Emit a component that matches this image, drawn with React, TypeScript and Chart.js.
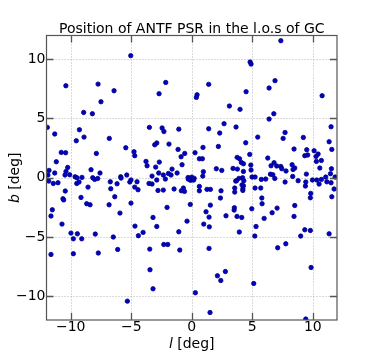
import React, { useEffect, useRef } from "react";
import { Chart, registerables } from "chart.js";

Chart.register(...registerables);

// Galactic longitude l [deg] of each pulsar
const lValues: number[] = [
  -5.04, -10.4, -7.74, -6.42, -7.5, -8.93, -8.21, -11.93, -9.28,
  -2.15, -2.7, 1.4, 0.44, 0.38, 3.11, -3.5, -2.45, -2.3, -1.07, 1.4, 2.67, 3.66,
  7.36, 4.82, 4.9, 6.88, 6.39, 4.49, 10.77, 3.99, 6.78, 6.39, 11.51,
  -11.32, -8.9, -9.54, -6.81, -10.78, -10.42, -7.88, -5.45, -4.77, -4.71,
  -11.19, -10.25, -10.39, -11.32, -10.47, -10.08, -8.32, -7.58, -11.79, -11.88,
  -9.64, -9.48, -9.07, -8.18, -8.02, -7.77, -5.87, -5.84, -5.37, -5.12, -5.02, -4.52,
  -11.82, -11.44, -11.05, -9.5, -9.31, -6.73, -6.17, -8.57, -6.69, -4.71, -4.44,
  -10.45, -9.15, -10.64, -10.58, -6.36, -8.68, -8.4, -6.83, -5.02, -11.52, -11.63,
  -5.93, -10.72, -4.69,
  2.31, -2.89, -3.06, -1.88, 2.2, 0.93, -1.13, -0.58, 0.27, -0.88, 0.63, 0.88,
  -3.78, -3.69, -2.68, -0.8, -2.98, -1.63, 2.03, 2.48, 3.41, 3.77, 0.96,
  -2.73, -2.35, -1.93, -1.71, -1.21, -3.28, 0.91, -2.18, -2.89,
  -0.3, 0.0, 0.2, -0.1, 0.15, -0.28,
  -3.53, -3.28, 3.63, 0.63, -1.46, 1.26, 1.54, -0.69, -0.86, -0.6, -2.79, -2.35,
  0.63, 2.42, 3.55, 3.55, 2.37, -0.12, 1.54, -2.04, 3.52, 3.5, 1.18, 2.83, 1.43,
  -3.2, 3.74, -0.39, -2.89, 0.99, 1.45,
  7.71, 7.55, 9.22, 5.45, 4.46, 11.35, 8.45, 9.5, 10.11, 11.57, 4.79, 9.58, 9.34,
  10.44, 10.27, 3.75, 3.95, 6.28, 10.3, 10.71, 4.1, 4.27, 6.8, 4.88, 6.55, 7.02,
  7.36, 8.29, 7.44, 8.51, 8.37, 7.79, 10.58, 11.54, 4.9, 4.27, 6.5, 6.7, 9.47,
  11.46, 8.34, 11.84, 4.98, 5.23, 3.9, 4.2, 4.3, 3.7, 4.15, 5.75, 6.11, 6.86,
  9.97, 10.33, 10.71, 11.07, 8.79, 7.71, 9.42, 11.16, 11.51, 10.52, 9.39, 4.27,
  4.22, 4.22, 5.23, 5.7, 11.76, 9.83, 9.8, 11.57, 5.79, 5.81, 8.51, 7.05, 4.96,
  6.64, 8.45, 4.13, 5.98, 5.31,
  -9.98, -9.45, -9.78, -9.09, -7.97, -6.48, -4.41, -11.63, -9.78, -7.72, -6.12, -5.32,
  -4.02, -1.07, -2.31, -1.98, -3.47, -0.99, 1.43, -3.45, 2.78, 2.12, 2.4, -3.2, 0.3, 1.51,
  3.93, 5.21, 9.34, 9.8, 9.0, 11.35, 7.1, 7.77, 9.86, 5.12, 9.42,
];

// Galactic latitude b [deg] of each pulsar (same order)
const bValues: number[] = [
  10.3, 7.76, 7.9, 7.34, 6.41, 5.51, 5.4, 4.25, 4.05,
  8.04, 7.09, 7.88, 7.0, 6.78, 6.05, 4.25, 4.2, 3.9, 4.1, 4.13, 4.56, 4.28,
  11.56, 9.76, 9.59, 8.19, 7.57, 7.26, 6.92, 5.77, 5.4, 4.95, 4.3,
  3.69, 3.43, 3.12, 3.32, 2.14, 2.11, 2.05, 2.53, 2.19, 1.86,
  1.35, 0.87, 0.53, 0.4, 0.23, 0.25, 0.68, 0.4, 0.62, 0.23,
  0.08, 0.0, 0.03, 0.0, -0.14, -0.06, 0.08, -0.03, 0.23, -0.36, -0.19, -0.34,
  -0.28, -0.48, -0.42, -0.48, -0.36, -0.34, -0.51, -0.79, -0.93, -0.79, -1.01,
  -1.12, -1.66, -1.77, -1.87, -1.6, -2.19, -2.28, -2.28, -2.14, -2.7, -3.23,
  -2.98, -3.91, -4.08,
  3.77, 2.93, 2.78, 2.84, 2.64, 2.56, 2.39, 2.05, 2.11, 1.77, 1.6, 1.6,
  1.38, 1.01, 1.32, 1.1, 0.9, 0.73, 0.76, 0.62, 0.79, 0.73, 0.51,
  0.4, 0.23, 0.36, 0.23, 0.4, 0.14, 0.14, -0.11, -0.19,
  0.02, 0.05, -0.05, -0.22, -0.2, -0.12,
  -0.48, -0.53, -0.28, -0.73, -0.95, -0.98, -0.98, -0.87, -1.1, -1.15, -1.07, -1.04,
  -1.1, -1.1, -0.87, -1.21, -1.71, -2.25, -2.31, -2.5, -2.53, -2.73, -2.87, -3.21, -3.32,
  -3.35, -3.26, -3.66, -4.11, -3.91, -4.14,
  3.82, 3.32, 3.4, 3.43, 2.95, 3.04, 2.42, 2.36, 2.28, 2.39, 1.97, 1.92, 1.86,
  2.0, 1.8, 1.72, 1.6, 1.66, 1.38, 1.46, 1.29, 1.18, 1.27, 1.07, 1.01, 0.99,
  0.95, 1.1, 0.76, 0.82, 0.7, 0.57, 0.82, 0.76, 0.65, 0.53, 0.3, 0.25, 0.31,
  0.34, 0.11, 0.06, 0.06, 0.06, -0.05, 0.0, -0.25, -0.25, -0.6, -0.14, -0.11, -0.06,
  -0.19, -0.19, -0.14, 0.06, -0.25, -0.36, -0.36, -0.34, -0.42, -0.53, -0.7, -0.68,
  -0.93, -1.07, -0.87, -0.87, -0.95, -1.32, -1.69, -1.6, -1.71, -2.19, -2.34, -2.56, -2.62,
  -2.95, -3.26, -3.35, -3.43, -4.11,
  -4.67, -4.73, -5.15, -5.15, -4.75, -5.0, -4.89, -6.47, -6.41, -6.35, -6.05, -10.41,
  -4.61, -4.56, -5.63, -5.63, -6.02, -6.1, -5.96, -7.76, -7.91, -8.27, -8.67, -9.37, -9.7, -11.37,
  -4.58, -4.92, -4.39, -4.45, -4.92, -4.73, -5.91, -5.57, -7.57, -8.92, -11.92,
];

const tickValues: number[] = [-10, -5, 0, 5, 10];
const axisMin = -12;
const axisMax = 12;

const titleText = "Position of ANTF PSR in the l.o.s of GC";
const xLabelSymbol = "l";
const xLabelUnit = " [deg]";
const yLabelSymbol = "b";
const yLabelUnit = " [deg]";

const FAMILY = '"DejaVu Sans", "Liberation Sans", sans-serif';
const fmt = (v: number | string) => String(v).replace("-", "\u2212");

function drawMixed(ctx: CanvasRenderingContext2D, sym: string, rest: string, cx: number, cy: number) {
  const italic = `italic 14px ${FAMILY}`;
  const normal = `14px ${FAMILY}`;
  ctx.font = italic;
  const w1 = ctx.measureText(sym).width;
  ctx.font = normal;
  const w2 = ctx.measureText(rest).width;
  const start = cx - (w1 + w2) / 2;
  ctx.textAlign = "left";
  ctx.textBaseline = "alphabetic";
  ctx.font = italic;
  ctx.fillText(sym, start, cy);
  ctx.font = normal;
  ctx.fillText(rest, start + w1, cy);
}

export default function App() {
  const ref = useRef<HTMLCanvasElement>(null);

  useEffect(() => {
    const canvas = ref.current;
    if (!canvas) return;
    const points = lValues.map((l, i) => ({ x: l, y: bValues[i] }));

    const decor = {
      id: "decor",
      beforeDatasetsDraw(chart: any) {
        const { ctx, chartArea: a, scales } = chart;
        const xs = scales.x;
        const ys = scales.y;
        ctx.save();
        ctx.strokeStyle = "#b4b4b4";
        ctx.lineWidth = 1;
        ctx.setLineDash([1, 2]);
        for (const v of tickValues) {
          const px = Math.round(xs.getPixelForValue(v)) + 0.5;
          ctx.beginPath();
          ctx.moveTo(px, a.top);
          ctx.lineTo(px, a.bottom);
          ctx.stroke();
          const py = Math.round(ys.getPixelForValue(v)) + 0.5;
          ctx.beginPath();
          ctx.moveTo(a.left, py);
          ctx.lineTo(a.right, py);
          ctx.stroke();
        }
        ctx.restore();
      },
      afterDatasetsDraw(chart: any) {
        const { ctx, chartArea: a, scales } = chart;
        const xs = scales.x;
        const ys = scales.y;
        ctx.save();
        ctx.setLineDash([]);
        ctx.strokeStyle = "#555555";
        ctx.lineWidth = 1.3;
        const tl = 7;
        for (const v of tickValues) {
          const px = Math.round(xs.getPixelForValue(v)) + 0.5;
          ctx.beginPath();
          ctx.moveTo(px, a.bottom);
          ctx.lineTo(px, a.bottom - tl);
          ctx.moveTo(px, a.top);
          ctx.lineTo(px, a.top + tl);
          ctx.stroke();
          const py = Math.round(ys.getPixelForValue(v)) + 0.5;
          ctx.beginPath();
          ctx.moveTo(a.left, py);
          ctx.lineTo(a.left + tl, py);
          ctx.moveTo(a.right, py);
          ctx.lineTo(a.right - tl, py);
          ctx.stroke();
        }
        ctx.lineWidth = 1.2;
        ctx.strokeRect(a.left, a.top, a.right - a.left, a.bottom - a.top);
        ctx.restore();
      },
      afterDraw(chart: any) {
        const { ctx, chartArea: a } = chart;
        ctx.save();
        ctx.fillStyle = "#000000";
        ctx.font = `14px ${FAMILY}`;
        ctx.textAlign = "center";
        ctx.textBaseline = "alphabetic";
        ctx.fillText(titleText, (a.left + a.right) / 2, 33);
        drawMixed(ctx, xLabelSymbol, xLabelUnit, (a.left + a.right) / 2, 348);
        ctx.translate(19, (a.top + a.bottom) / 2);
        ctx.rotate(-Math.PI / 2);
        drawMixed(ctx, yLabelSymbol, yLabelUnit, 0, 0);
        ctx.restore();
      },
    };

    const tickFont = { family: FAMILY, size: 14 };

    const chart = new Chart(canvas, {
      type: "scatter",
      data: {
        datasets: [
          {
            data: points,
            pointRadius: 2.2,
            pointHoverRadius: 2.2,
            pointBackgroundColor: "#0000c8",
            pointBorderColor: "#000080",
            pointBorderWidth: 0.8,
          },
        ],
      },
      options: {
        responsive: false,
        animation: false,
        events: [],
        layout: { padding: { left: 0, right: 37, top: 35.5, bottom: 0 } },
        plugins: {
          legend: { display: false },
          tooltip: { enabled: false },
          title: { display: false },
        },
        scales: {
          x: {
            type: "linear",
            position: "bottom",
            min: axisMin,
            max: axisMax,
            afterBuildTicks: (s: any) => {
              s.ticks = tickValues.map((v) => ({ value: v }));
            },
            afterFit: (s: any) => {
              s.height = 36;
            },
            grid: { display: false, drawTicks: false },
            border: { display: false },
            ticks: {
              font: tickFont,
              color: "#000000",
              padding: -1,
              maxRotation: 0,
              autoSkip: false,
              callback: (v: any) => fmt(v),
            },
          },
          y: {
            type: "linear",
            position: "left",
            min: axisMin,
            max: axisMax,
            afterBuildTicks: (s: any) => {
              s.ticks = tickValues.map((v) => ({ value: v }));
            },
            afterFit: (s: any) => {
              s.width = 46.5;
            },
            grid: { display: false, drawTicks: false },
            border: { display: false },
            ticks: {
              font: tickFont,
              color: "#000000",
              padding: 1,
              autoSkip: false,
              callback: (v: any) => fmt(v),
            },
          },
        },
      },
      plugins: [decor],
    } as any);

    return () => {
      chart.destroy();
    };
  }, []);

  return (
    <div style={{ position: "fixed", left: 0, top: 0, width: 374, height: 356, background: "#ffffff" }}>
      <canvas ref={ref} width={374} height={356} style={{ display: "block" }} />
    </div>
  );
}
